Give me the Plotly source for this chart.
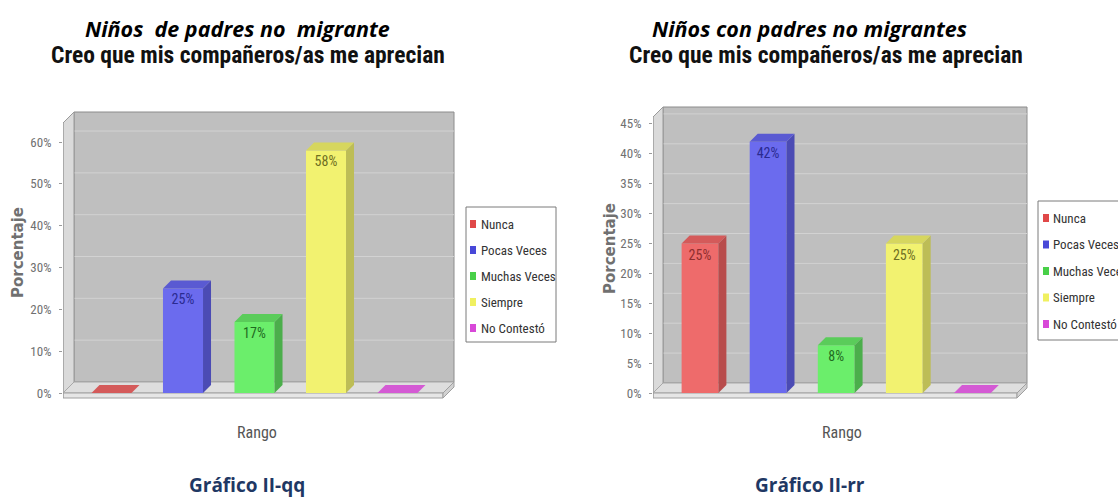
import plotly.graph_objects as go

W, H = 1118, 498

# ---------------- data ----------------
categories = ["Nunca", "Pocas Veces", "Muchas Veces", "Siempre", "No Contestó"]
values_qq = [0.00, 0.25, 0.17, 0.58, 0.00]
values_rr = [0.25, 0.42, 0.08, 0.25, 0.00]
labels_qq = ["", "25%", "17%", "58%", ""]
labels_rr = ["25%", "42%", "8%", "25%", ""]
ticks_qq = [0.0, 0.1, 0.2, 0.3, 0.4, 0.5, 0.6]
ticks_rr = [0.0, 0.05, 0.10, 0.15, 0.20, 0.25, 0.30, 0.35, 0.40, 0.45]
group_titles = ["Niños\u00a0 de padres no\u00a0 migrante", "Niños con padres no migrantes"]
chart_title = "Creo que mis compañeros/as me aprecian"
figure_labels = ["Gráfico II-qq", "Gráfico II-rr"]
y_title = "Porcentaje"
x_title = "Rango"

# ---------------- style ----------------
front_colors = ["#EE6B6B", "#6B6BEE", "#6BEE6B", "#F2F270", "#EE6BEE"]
side_colors = ["#B84C4C", "#4B4BB4", "#4BAE4B", "#BDBD56", "#B84BB8"]
top_colors = ["#D45A5A", "#5A5AD2", "#5ACC5A", "#D6D65E", "#D45AD4"]
text_colors = ["#8E2E2E", "#2A2A90", "#1F6A1F", "#6E6E22", "#8E2E8E"]
legend_colors = ["#E04848", "#4848D8", "#48D048", "#F0F060", "#D848D8"]

NARROW = "Noto Sans Condensed, Noto Sans ExtraCondensed, Roboto Condensed, Liberation Sans Narrow, Roboto"
CALIBRI = "Open Sans, Lato, sans-serif"

# pixel geometry of each 3D chart (layout only)
geoms = [
    dict(xl=63, c0=111.5, sp=71.5, xr=443, y0=393, ppu=418.3, ytop=123,
         wd=11, bd=8, slab=5, bw=0.56),
    dict(xl=653, c0=700.0, sp=68.1, xr=1017, y0=393, ppu=598.0, ytop=117,
         wd=10, bd=8, slab=5, bw=0.54),
]

fig = go.Figure()
shapes = []
annotations = []


def px_x(px):
    return px / W


def px_y(py):
    return (H - py) / H


datasets = [(values_qq, labels_qq, ticks_qq), (values_rr, labels_rr, ticks_rr)]

for k, (g, (vals, labs, ticks)) in enumerate(zip(geoms, datasets)):
    xa = "x" if k == 0 else "x2"
    ya = "y" if k == 0 else "y2"

    def dx(px, g=g):
        return (px - g["c0"]) / g["sp"]

    def dy(py, g=g):
        return (g["y0"] - py) / g["ppu"]

    dom_x = [g["xl"], g["xr"] + g["wd"] + 1]
    dom_y = [g["ytop"] - g["wd"] - 1, g["y0"] + g["slab"] + 1]

    axis_key = "xaxis" if k == 0 else "xaxis2"
    yaxis_key = "yaxis" if k == 0 else "yaxis2"
    fig.layout[axis_key] = dict(
        domain=[px_x(dom_x[0]), px_x(dom_x[1])],
        range=[dx(dom_x[0]), dx(dom_x[1])],
        showticklabels=False, showgrid=False, zeroline=False, showline=False,
        ticks="", fixedrange=True, anchor=ya,
    )
    fig.layout[yaxis_key] = dict(
        domain=[px_y(dom_y[1]), px_y(dom_y[0])],
        range=[dy(dom_y[1]), dy(dom_y[0])],
        tickvals=ticks, tickformat=".0%", ticks="outside", ticklen=3,
        ticklabelstandoff=5,
        tickcolor="#9A9A9A", tickfont=dict(family=NARROW, size=13, color="#707070"),
        showgrid=False, zeroline=False, showline=False, fixedrange=True, anchor=xa,
    )

    # depth offsets in data units
    wdx = g["wd"] / g["sp"]
    wdy = g["wd"] / g["ppu"]
    bdx = g["bd"] / g["sp"]
    bdy = g["bd"] / g["ppu"]
    slab = g["slab"] / g["ppu"]
    xl = dx(g["xl"])
    xr = dx(g["xr"])
    yt = dy(g["ytop"])

    def path(pts):
        return "M " + " L ".join(f"{a:.5f},{b:.5f}" for a, b in pts) + " Z"

    # back wall
    shapes.append(dict(type="path", xref=xa, yref=ya, layer="below",
                       path=path([(xl + wdx, wdy), (xr + wdx, wdy), (xr + wdx, yt + wdy), (xl + wdx, yt + wdy)]),
                       fillcolor="#BFBFBF", line=dict(color="#8C8C8C", width=1)))
    # gridlines on back wall
    for t in ticks[1:]:
        shapes.append(dict(type="line", xref=xa, yref=ya, layer="below",
                           x0=xl + wdx, x1=xr + wdx, y0=t + wdy, y1=t + wdy,
                           line=dict(color="#D2D2D2", width=1)))
    # left side wall
    shapes.append(dict(type="path", xref=xa, yref=ya, layer="below",
                       path=path([(xl, 0), (xl + wdx, wdy), (xl + wdx, yt + wdy), (xl, yt)]),
                       fillcolor="#DADADA", line=dict(color="#9A9A9A", width=1)))
    # floor
    shapes.append(dict(type="path", xref=xa, yref=ya, layer="below",
                       path=path([(xl, 0), (xr, 0), (xr + wdx, wdy), (xl + wdx, wdy)]),
                       fillcolor="#DEDEDE", line=dict(color="#A8A8A8", width=1)))
    # floor slab front and side
    shapes.append(dict(type="path", xref=xa, yref=ya, layer="below",
                       path=path([(xl, 0), (xr, 0), (xr, -slab), (xl, -slab)]),
                       fillcolor="#E6E6E6", line=dict(color="#A0A0A0", width=1)))
    shapes.append(dict(type="path", xref=xa, yref=ya, layer="below",
                       path=path([(xr, 0), (xr + wdx, wdy), (xr + wdx, wdy - slab), (xr, -slab)]),
                       fillcolor="#D2D2D2", line=dict(color="#A0A0A0", width=1)))
    # y axis line
    shapes.append(dict(type="line", xref=xa, yref=ya, layer="below",
                       x0=xl, x1=xl, y0=-slab, y1=yt, line=dict(color="#9A9A9A", width=1)))

    # bars
    for i, (cat, v, lab) in enumerate(zip(categories, vals, labs)):
        fig.add_trace(go.Bar(
            x=[i], y=[v], width=[g["bw"]], name=cat, xaxis=xa, yaxis=ya,
            marker=dict(color=front_colors[i], line=dict(width=0)),
            text=[lab], textposition="inside", insidetextanchor="end",
            textangle=0, textfont=dict(family=NARROW, size=14, color=text_colors[i]),
            showlegend=False, hoverinfo="x+y",
        ))
        x0 = i - g["bw"] / 2
        x1 = i + g["bw"] / 2
        # side face
        shapes.append(dict(type="path", xref=xa, yref=ya, layer="above",
                           path=path([(x1, 0), (x1 + bdx, bdy), (x1 + bdx, v + bdy), (x1, v)]),
                           fillcolor=side_colors[i], line=dict(width=0)))
        # top face
        shapes.append(dict(type="path", xref=xa, yref=ya, layer="above",
                           path=path([(x0, v), (x1, v), (x1 + bdx, v + bdy), (x0 + bdx, v + bdy)]),
                           fillcolor=top_colors[i], line=dict(width=0)))

# ---------------- texts ----------------
title_pos = [(237, 29), (809, 29)]
chart_title_pos = [(248, 55), (826, 55)]
ytitle_pos = [(18, 253), (610, 249)]
xtitle_pos = [(257, 432), (842, 432)]
fig_label_pos = [(247, 485), (810, 485)]

for k in range(2):
    annotations.append(dict(text=f"<b><i>{group_titles[k]}</i></b>", x=px_x(title_pos[k][0]), y=px_y(title_pos[k][1]),
                            xref="paper", yref="paper", showarrow=False, xanchor="center", yanchor="middle",
                            font=dict(family=CALIBRI, size=21.5, color="#000000")))
    annotations.append(dict(text=f"<b>{chart_title}</b>", x=px_x(chart_title_pos[k][0]), y=px_y(chart_title_pos[k][1]),
                            xref="paper", yref="paper", showarrow=False, xanchor="center", yanchor="middle",
                            font=dict(family=NARROW, size=23.5, color="#111111")))
    annotations.append(dict(text=y_title, x=px_x(ytitle_pos[k][0]), y=px_y(ytitle_pos[k][1]),
                            xref="paper", yref="paper", showarrow=False, xanchor="center", yanchor="middle",
                            textangle=-90, font=dict(family="DejaVu Sans", size=15, weight="bold", color="#707070")))
    annotations.append(dict(text=x_title, x=px_x(xtitle_pos[k][0]), y=px_y(xtitle_pos[k][1]),
                            xref="paper", yref="paper", showarrow=False, xanchor="center", yanchor="middle",
                            font=dict(family=NARROW, size=16, color="#555555")))
    annotations.append(dict(text=f"<b>{figure_labels[k]}</b>", x=px_x(fig_label_pos[k][0]), y=px_y(fig_label_pos[k][1]),
                            xref="paper", yref="paper", showarrow=False, xanchor="center", yanchor="middle",
                            font=dict(family=CALIBRI, size=19, color="#1F3864")))

# ---------------- legends (drawn) ----------------
legend_boxes = [dict(x0=466, x1=556, y0=207, y1=342, ey=224, step=26.0, sx=470, tx=479),
                dict(x0=1038, x1=1125, y0=201, y1=340, ey=218, step=26.5, sx=1043, tx=1051)]
for lb in legend_boxes:
    shapes.append(dict(type="rect", xref="paper", yref="paper",
                       x0=px_x(lb["x0"]), x1=px_x(lb["x1"]), y0=px_y(lb["y1"]), y1=px_y(lb["y0"]),
                       fillcolor="#FFFFFF", line=dict(color="#7A7A7A", width=1)))
    for i, cat in enumerate(categories):
        cy = lb["ey"] + lb["step"] * i
        shapes.append(dict(type="rect", xref="paper", yref="paper",
                           x0=px_x(lb["sx"]), x1=px_x(lb["sx"] + 6), y0=px_y(cy + 4), y1=px_y(cy - 4),
                           fillcolor=legend_colors[i], line=dict(width=0)))
        annotations.append(dict(text=cat, x=px_x(lb["tx"]), y=px_y(cy), xref="paper", yref="paper",
                                showarrow=False, xanchor="left", yanchor="middle",
                                font=dict(family=NARROW, size=13, color="#333333")))

fig.update_layout(
    width=W, height=H, autosize=False,
    margin=dict(l=0, r=0, t=0, b=0, autoexpand=False),
    paper_bgcolor="#FFFFFF", plot_bgcolor="rgba(0,0,0,0)",
    barmode="overlay", showlegend=False,
    shapes=shapes, annotations=annotations,
)

fig.write_html("out.html", config={"displayModeBar": False},
               post_script="document.body.style.margin='0';document.body.style.overflow='hidden';")
